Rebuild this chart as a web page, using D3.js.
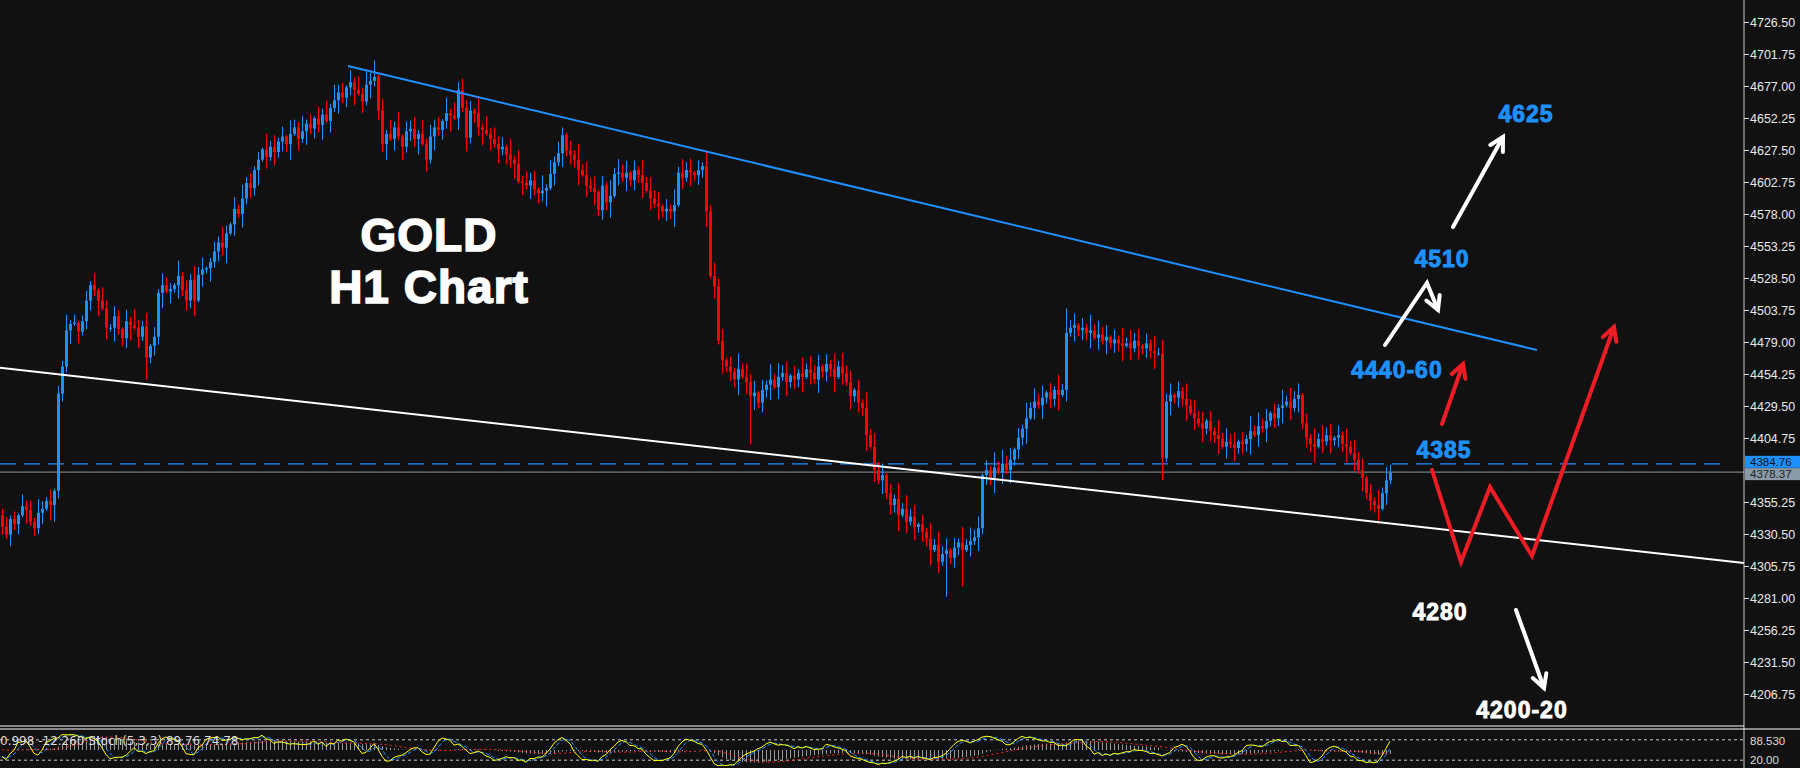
<!DOCTYPE html>
<html>
<head>
<meta charset="utf-8">
<script src="https://cdn.jsdelivr.net/npm/d3@7"></script>
<style>
  body { margin: 0; background: #111111; overflow: hidden; }
  svg { display: block; }
</style>
</head>
<body>
<script>
// hourly closes (one per candle)
const closes = [
  4336,4330,4342,4338,4345,4352,4349,4340,4335,4347,
  4350,4356,4353,4364,4439,4460,4488,4493,4494,4487,
  4495,4511,4523,4519,4511,4505,4490,4490,4499,4489,
  4482,4495,4492,4490,4483,4491,4467,4476,4483,4517,
  4523,4518,4520,4523,4530,4519,4511,4527,4511,4531,
  4535,4536,4541,4549,4556,4552,4563,4570,4582,4578,
  4590,4602,4598,4612,4620,4628,4622,4630,4626,4634,
  4638,4632,4640,4645,4636,4642,4648,4644,4652,4647,
  4655,4650,4660,4666,4672,4668,4676,4680,4674,4671,
  4665,4678,4681,4684,4658,4632,4640,4636,4645,4638,
  4630,4642,4644,4636,4640,4632,4620,4638,4645,4643,
  4650,4656,4654,4652,4674,4660,4637,4658,4656,4645,
  4643,4640,4636,4632,4628,4630,4624,4620,4617,4603,
  4602,4600,4604,4597,4594,4596,4598,4609,4618,4625,
  4639,4627,4624,4620,4612,4608,4600,4598,4595,4581,
  4600,4587,4592,4609,4610,4606,4610,4604,4612,4608,
  4602,4596,4590,4586,4584,4580,4582,4580,4585,4610,
  4606,4612,4610,4608,4612,4615,4580,4530,4522,4480,
  4465,4460,4456,4450,4458,4452,4448,4437,4440,4432,
  4442,4446,4450,4444,4452,4455,4448,4453,4450,4455,
  4452,4458,4455,4450,4460,4456,4462,4458,4452,4460,
  4455,4448,4437,4442,4432,4428,4407,4398,4380,4372,
  4376,4362,4353,4358,4345,4350,4340,4344,4336,4338,
  4332,4327,4318,4322,4309,4315,4318,4312,4320,4324,
  4318,4322,4325,4328,4335,4376,4380,4374,4382,4378,
  4385,4380,4388,4396,4405,4412,4420,4428,4433,4430,
  4436,4440,4435,4442,4438,4442,4486,4490,4492,4488,
  4490,4486,4488,4482,4485,4480,4483,4478,4481,4478,
  4476,4478,4474,4480,4476,4474,4478,4472,4470,4470,
  4389,4433,4438,4436,4441,4435,4430,4424,4420,4416,
  4412,4418,4410,4407,4404,4398,4402,4400,4397,4402,
  4400,4404,4410,4407,4414,4412,4418,4424,4420,4428,
  4430,4433,4428,4435,4438,4416,4405,4400,4398,4404,
  4402,4407,4403,4405,4407,4400,4398,4393,4388,4380,
  4374,4362,4356,4353,4350,4362,4372,4378
];
const firstOpen = 4345;
// wick lengths above / below the body, in steps of 1.5
const wickUp = ("3524163527426153824135261742531628437152643182537461"+
  "2538416273524183625174382516372845162738451627381546"+
  "2736451827364518273645182736451827364152837461528374"+
  "6152837461528374615283746152837461528374615283746152"+
  "8374615283746152837461528374615283746152837461528374"+
  "6152837461528374615283746152837461528374615283746152"+
  "837461528374615283746152837461528374615283746152").split("").map(Number);
const wickDn = ("4263517243618254371624538162734581627354816273548162"+
  "7354816273548162735481627354816273548162735481627354"+
  "8162735481627354816273548162735481627354816273548162"+
  "7354816273548162735481627354816273548162735481627354"+
  "8162735481627354816273548162735481627354816273548162"+
  "7354816273548162735481627354816273548162735481627354"+
  "816273548162735481627354816273548162735481627354").split("").map(Number);
const highOverride = { 93: 4697, 114: 4680, 266: 4505, 14: 4445 };
const lowOverride = { 36: 4450, 290: 4372, 236: 4282, 240: 4290, 13: 4340, 14: 4358, 187: 4400 };

// 4380.00 is hidden behind the price tags, as in the terminal
const priceTicks = [4726.50,4701.75,4677.00,4652.25,4627.50,4602.75,4578.00,4553.25,
  4528.50,4503.75,4479.00,4454.25,4429.50,4404.75,4355.25,4330.50,4305.75,
  4281.00,4256.25,4231.50,4206.75];
const bidPrice = 4384.76, askPrice = 4378.37;
// trend lines: [candle index, price]
const resistLine = [[86.5, 4692.5], [383.75, 4472.8]];
const supportLine = [[-0.5, 4459], [435.5, 4308]];

const W = 1800, H = 768, axisX = 1744;
const x = d3.scaleLinear().domain([0, 1]).range([2, 6]);
const y = d3.scaleLinear().domain([4726.5, 4206.75]).range([22, 694]);
const axisFont = "12.5px 'Liberation Sans', Arial, sans-serif";

const candles = closes.map((c, i) => {
  const o = i === 0 ? firstOpen : closes[i - 1];
  const hi = highOverride[i] ?? Math.max(o, c) + wickUp[i] * 1.5;
  const lo = lowOverride[i] ?? Math.min(o, c) - wickDn[i] * 1.5;
  return { i, o, c, hi, lo };
});

const svg = d3.select("body").append("svg").attr("width", W).attr("height", H);
svg.append("rect").attr("width", W).attr("height", H).attr("fill", "#111111");

const main = svg.append("g");
// horizontal price lines
main.append("line").attr("x1", 0).attr("x2", axisX - 20)
  .attr("y1", y(bidPrice)).attr("y2", y(bidPrice))
  .attr("stroke", "#1e90ff").attr("stroke-width", 1.2).attr("stroke-dasharray", "16,8");
main.append("line").attr("x1", 0).attr("x2", axisX)
  .attr("y1", y(askPrice)).attr("y2", y(askPrice))
  .attr("stroke", "#8a9aa8").attr("stroke-width", 1);

// candles
const cg = main.append("g");
cg.selectAll("line.wick").data(candles).enter().append("line")
  .attr("x1", d => x(d.i) + 0.5).attr("x2", d => x(d.i) + 0.5)
  .attr("y1", d => y(d.hi)).attr("y2", d => y(d.lo))
  .attr("stroke", d => d.c >= d.o ? "#1e90ff" : "#ff0000").attr("stroke-width", 1);
cg.selectAll("rect").data(candles).enter().append("rect")
  .attr("x", d => x(d.i) - 1)
  .attr("y", d => y(Math.max(d.o, d.c)))
  .attr("width", 3)
  .attr("height", d => Math.max(1, Math.abs(y(d.o) - y(d.c))))
  .attr("fill", d => d.c >= d.o ? "#1e90ff" : "#ff0000");

// trend lines
const tl = d3.line().x(d => x(d[0])).y(d => y(d[1]));
main.append("path").attr("d", tl(resistLine)).attr("stroke", "#1e90ff").attr("stroke-width", 2).attr("fill", "none");
main.append("path").attr("d", tl(supportLine)).attr("stroke", "#ffffff").attr("stroke-width", 2).attr("fill", "none");

// price axis
svg.append("line").attr("x1", axisX).attr("x2", axisX).attr("y1", 0).attr("y2", H).attr("stroke", "#cccccc");
const axis = svg.append("g").attr("transform", `translate(${axisX},0)`)
  .call(d3.axisRight(y).tickValues(priceTicks).tickFormat(d3.format(".2f")).tickSize(5).tickPadding(1));
axis.select(".domain").remove();
axis.selectAll("line").attr("stroke", "#dddddd");
axis.selectAll("text").attr("fill", "#e8e8e8").style("font", axisFont);

function priceTag(p, dy, bg, fg) {
  const g = svg.append("g").attr("transform", `translate(${axisX + 1},${y(p) + dy})`);
  g.append("rect").attr("x", 0).attr("y", -6).attr("width", 55).attr("height", 12).attr("fill", bg);
  g.append("text").attr("x", 5).attr("y", 4).text(p.toFixed(2)).attr("fill", fg)
    .style("font", "11.5px 'Liberation Sans', Arial, sans-serif");
}
priceTag(askPrice, 2, "#8a9aa8", "#222");
priceTag(bidPrice, -2, "#1e90ff", "#111");

// annotations
const labels = [
  { t: "GOLD", x: 429, y: 251, s: 46, c: "#ffffff" },
  { t: "H1 Chart", x: 429, y: 303, s: 46, c: "#ffffff" },
  { t: "4625", x: 1526, y: 122, s: 23, c: "#1e90ff" },
  { t: "4510", x: 1442, y: 267, s: 23, c: "#1e90ff" },
  { t: "4440-60", x: 1397, y: 378, s: 23, c: "#1e90ff" },
  { t: "4385", x: 1444, y: 458, s: 23, c: "#1e90ff" },
  { t: "4280", x: 1440, y: 620, s: 23, c: "#ffffff" },
  { t: "4200-20", x: 1522, y: 718, s: 23, c: "#ffffff" }
];
svg.selectAll("text.lab").data(labels).enter().append("text")
  .attr("x", d => d.x).attr("y", d => d.y).attr("text-anchor", "middle")
  .text(d => d.t).attr("fill", d => d.c).attr("stroke", d => d.c).attr("stroke-width", d => d.s > 30 ? 1.6 : 0.9)
  .style("font-family", "'Liberation Sans', Arial, sans-serif").style("font-weight", "bold")
  .style("font-size", d => d.s + "px").style("letter-spacing", "1px");

function arrow(pts, color, w) {
  const n = pts.length, a = pts[n - 2], b = pts[n - 1];
  const ang = Math.atan2(b[1] - a[1], b[0] - a[0]), L = 15, sp = 0.5;
  const h1 = [b[0] - L * Math.cos(ang - sp), b[1] - L * Math.sin(ang - sp)];
  const h2 = [b[0] - L * Math.cos(ang + sp), b[1] - L * Math.sin(ang + sp)];
  const ln = d3.line();
  svg.append("path").attr("d", ln(pts)).attr("stroke", color).attr("stroke-width", w)
    .attr("fill", "none").attr("stroke-linejoin", "miter").attr("stroke-linecap", "round");
  svg.append("path").attr("d", ln([h1, b, h2])).attr("stroke", color).attr("stroke-width", w)
    .attr("fill", "none").attr("stroke-linecap", "round");
}
arrow([[1453, 227], [1503, 137]], "#ffffff", 4);
arrow([[1385, 345], [1427, 283], [1438, 310]], "#ffffff", 4);
arrow([[1442, 424], [1463, 364]], "#ee1c25", 4);
arrow([[1432, 470], [1461, 562], [1490, 487], [1532, 556], [1614, 327]], "#ee1c25", 4);
arrow([[1516, 610], [1544, 688]], "#ffffff", 4);

// panel separator
svg.append("line").attr("x1", 0).attr("x2", axisX).attr("y1", 726).attr("y2", 726).attr("stroke", "#fff");
svg.append("line").attr("x1", 0).attr("x2", W).attr("y1", 729).attr("y2", 729).attr("stroke", "#fff");

// stochastic (5,3,3) of the candles above
const kRaw = candles.map((d, i) => {
  const win = candles.slice(Math.max(0, i - 4), i + 1);
  const hh = d3.max(win, w => w.hi), ll = d3.min(win, w => w.lo);
  return hh === ll ? 50 : (d.c - ll) / (hh - ll) * 100;
});
const sma = (arr, n) => arr.map((v, i) => d3.mean(arr.slice(Math.max(0, i - n + 1), i + 1)));
const kLine = sma(kRaw, 3), dLine = sma(kLine, 3);
const ema = (arr, n) => { let e = arr[0]; const k = 2 / (n + 1); return arr.map(v => (e = v * k + e * (1 - k))); };
const slow = ema(closes, 26);
const macd = ema(closes, 12).map((v, i) => v - slow[i]);
const sig = sma(macd, 9);

const ys = d3.scaleLinear().domain([0, 100]).range([767, 733]);
const ym = d3.scaleLinear().domain([-40, 40]).range([762, 738]);
const sub = svg.append("g");
[80, 20].forEach(v => sub.append("line").attr("x1", 0).attr("x2", axisX).attr("y1", ys(v)).attr("y2", ys(v))
  .attr("stroke", "#cccccc").attr("stroke-dasharray", "3,3"));
sub.selectAll("line.h").data(macd).enter().append("line")
  .attr("x1", (d, i) => x(i) + 0.5).attr("x2", (d, i) => x(i) + 0.5)
  .attr("y1", ym(0)).attr("y2", d => ym(d)).attr("stroke", "#9a9a9a");
sub.append("path").attr("d", d3.line().x((d, i) => x(i)).y(d => ym(d))(sig))
  .attr("stroke", "#ff2020").attr("stroke-dasharray", "2,3").attr("fill", "none");
sub.append("path").attr("d", d3.line().x((d, i) => x(i)).y(d => ys(d))(dLine))
  .attr("stroke", "#1e90ff").attr("stroke-dasharray", "4,2").attr("fill", "none");
sub.append("path").attr("d", d3.line().x((d, i) => x(i)).y(d => ys(d))(kLine))
  .attr("stroke", "#ffff00").attr("fill", "none");
sub.append("text").attr("x", 0).attr("y", 745).text("0.998 -12.260 Stoch(5,3,3) 89.76 74.78")
  .attr("fill", "#dddddd").style("font", "12px 'DejaVu Sans'");
[["88.530", 741], ["20.00", 760]].forEach(([t, yy]) =>
  svg.append("text").attr("x", axisX + 6).attr("y", yy + 4).text(t).attr("fill", "#dddddd")
    .style("font", "11.5px 'Liberation Sans', Arial, sans-serif"));
</script>
</body>
</html>
